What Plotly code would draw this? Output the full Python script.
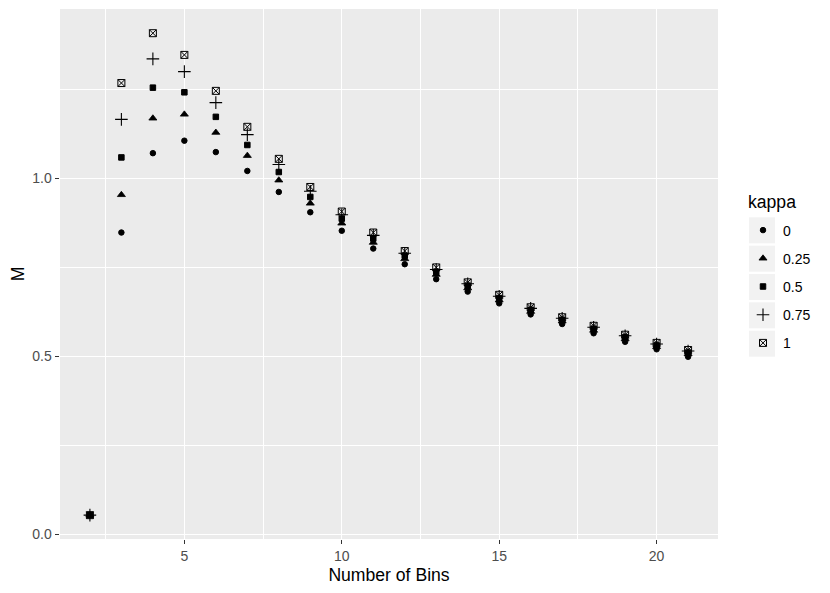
import plotly.graph_objects as go

bins = list(range(2, 22))
kappa_labels = ["0", "0.25", "0.5", "0.75", "1"]
m_k0 = [0.053, 0.847, 1.070, 1.105, 1.073, 1.020, 0.961, 0.904, 0.852, 0.802,
        0.758, 0.716, 0.681, 0.648, 0.617, 0.590, 0.564, 0.540, 0.519, 0.498]
m_k025 = [0.053, 0.953, 1.168, 1.179, 1.128, 1.063, 0.994, 0.929, 0.873, 0.819,
          0.773, 0.729, 0.691, 0.657, 0.625, 0.598, 0.572, 0.548, 0.526, 0.506]
m_k05 = [0.053, 1.058, 1.254, 1.241, 1.172, 1.093, 1.017, 0.947, 0.886, 0.830,
         0.782, 0.737, 0.698, 0.663, 0.630, 0.602, 0.577, 0.553, 0.530, 0.510]
m_k075 = [0.053, 1.165, 1.335, 1.299, 1.212, 1.122, 1.038, 0.963, 0.897, 0.839,
          0.789, 0.743, 0.703, 0.668, 0.634, 0.606, 0.581, 0.557, 0.534, 0.514]
m_k1 = [0.053, 1.267, 1.407, 1.346, 1.245, 1.144, 1.054, 0.975, 0.906, 0.847,
        0.795, 0.749, 0.707, 0.672, 0.637, 0.609, 0.585, 0.560, 0.537, 0.517]

series = [m_k0, m_k025, m_k05, m_k075, m_k1]
symbols = ["circle", "triangle-up", "square", "cross-thin-open", "square-x-open"]
sizes = [5.5, 7, 5.5, 9, 7]
widths = [1, 0.8, 1, 1.1, 1]

fig = go.Figure()
for lab, ys, sym, sz, lw in zip(kappa_labels, series, symbols, sizes, widths):
    fig.add_trace(go.Scatter(
        x=bins, y=ys, mode="markers", name=lab, legendgroup=lab,
        marker=dict(symbol=sym, size=sz, color="black",
                    line=dict(color="black", width=lw)),
    ))

# layout geometry (figure pixels)
W, H = 830, 593
ML, MR, MT, MB = 52, 120, 1, 62
PW, PH = W - ML - MR, H - MT - MB


def px_x(p):
    return (p - ML) / PW


def px_y(p):
    return 1 - (p - MT) / PH


# legend key backgrounds (ggplot style grey95 keys)
shapes = []
for c in [222.3, 250.7, 279.0, 307.3, 335.7]:
    shapes.append(dict(type="rect", xref="paper", yref="paper",
                       x0=px_x(741), x1=px_x(767),
                       y0=px_y(c + 13), y1=px_y(c - 13),
                       fillcolor="#F2F2F2", line=dict(width=0), layer="below"))

font_family = "Liberation Sans, Arial, Helvetica, sans-serif"
fig.update_layout(
    width=W, height=H,
    margin=dict(l=ML, r=MR, t=MT, b=MB),
    paper_bgcolor="white", plot_bgcolor="#EBEBEB",
    font=dict(family=font_family, color="#4D4D4D", size=14),
    showlegend=True,
    legend=dict(
        font=dict(size=14, color="black"),
        x=px_x(735), xanchor="left", y=px_y(206.5), yanchor="top",
        tracegroupgap=7, bgcolor="rgba(0,0,0,0)",
    ),
    shapes=shapes,
    annotations=[dict(text="kappa", xref="paper", yref="paper",
                      x=px_x(738), y=px_y(194), xanchor="left", yanchor="middle",
                      showarrow=False, font=dict(size=17.6, color="black"))],
)
fig.update_xaxes(
    range=[1.05, 21.95], tickvals=[5, 10, 15, 20],
    showgrid=True, gridcolor="white", gridwidth=1.3,
    minor=dict(tickvals=[2.5, 7.5, 12.5, 17.5], showgrid=True,
               gridcolor="white", gridwidth=0.65),
    ticks="outside", ticklen=4.4, tickwidth=1.3, tickcolor="#333333",
    tickfont=dict(size=14, color="#4D4D4D"),
    zeroline=False, showline=False,
    title=dict(text="Number of Bins", font=dict(size=17.6, color="black"), standoff=5),
)
fig.update_yaxes(
    range=[-0.014, 1.475], tickvals=[0.0, 0.5, 1.0], tickformat=".1f",
    showgrid=True, gridcolor="white", gridwidth=1.3,
    minor=dict(tickvals=[0.25, 0.75, 1.25], showgrid=True,
               gridcolor="white", gridwidth=0.65),
    ticks="outside", ticklen=4.4, tickwidth=1.3, tickcolor="#333333",
    tickfont=dict(size=14, color="#4D4D4D"),
    zeroline=False, showline=False,
    title=dict(text="M", font=dict(size=17.6, color="black"), standoff=7),
)

fig.write_html("out.html")
